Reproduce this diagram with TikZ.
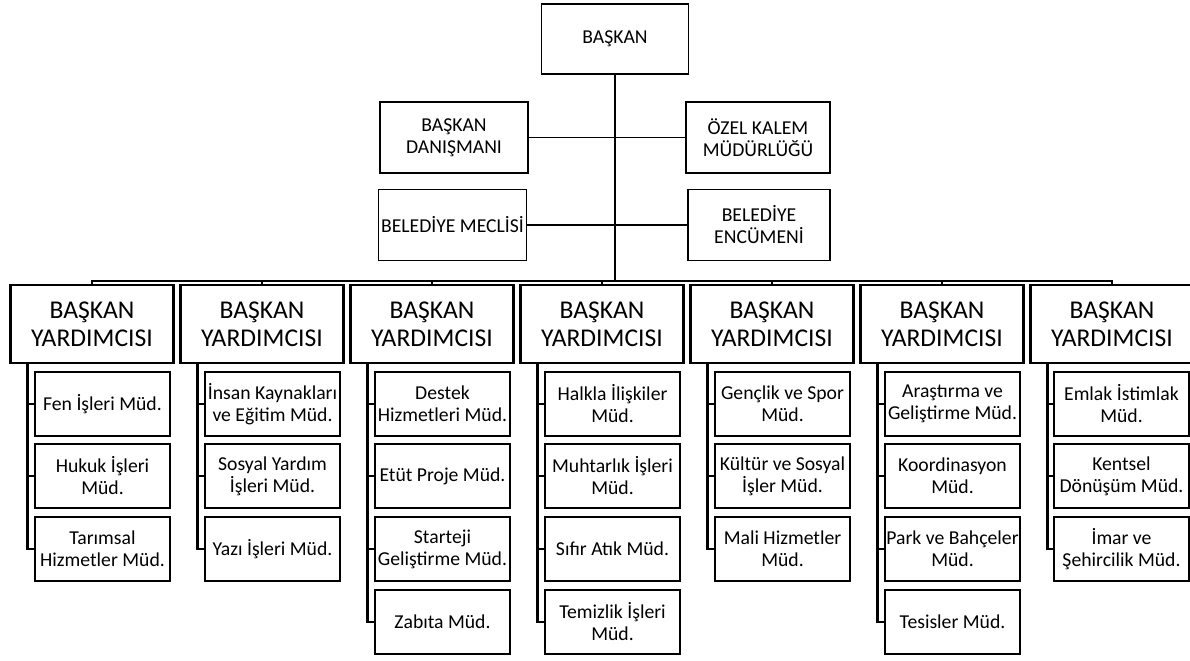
\documentclass[tikz,border=0pt]{standalone}
\usepackage{fontspec}
\setmainfont{Carlito}
\usetikzlibrary{calc}

\begin{document}
\begin{tikzpicture}[x=0.025cm, y=-0.025cm,
  topbox/.style={draw, line width=1.3pt, minimum width=3.7cm, minimum height=1.775cm, align=center, inner sep=1pt, font=\fontsize{14}{15.6}\selectfont},
  vpbox/.style={draw, line width=1.5pt, minimum width=4.075cm, minimum height=1.95cm, align=center, inner sep=1pt, font=\fontsize{18.2}{19.8}\selectfont},
  subbox/.style={draw, line width=1.8pt, minimum width=3.375cm, minimum height=1.6cm, align=center, inner sep=1pt, font=\fontsize{14}{15.6}\selectfont},
  thinline/.style={line width=0.9pt},
  thickline/.style={line width=1.9pt}]
  \useasboundingbox (0,0) rectangle (1190,660);
  % top of the chart
  \node[topbox, minimum width=3.675cm, minimum height=1.75cm] (baskan) at (615,39) {BAŞKAN};
  \node[topbox] (danisman) at (454,137.5) {BAŞKAN\\DANIŞMANI};
  \node[topbox, minimum width=3.6cm] (ozel) at (758,137.5) {ÖZEL KALEM\\MÜDÜRLÜĞÜ};
  \node[topbox] (meclis) at (452.5,225) {BELEDİYE MECLİSİ};
  \node[topbox, minimum width=3.55cm] (encumen) at (759,225) {BELEDİYE\\ENCÜMENİ};
  \coordinate (bus) at (615,281);
  \draw[thickline] (baskan) -- (bus);
  \draw[thinline] (danisman) -- (ozel);
  \draw[thinline] (meclis) -- (encumen);
  % deputies
  \foreach \i in {1,...,7} {
    \node[vpbox] (vp\i) at ({92+170*(\i-1)},324) {BAŞKAN\\YARDIMCISI};
    \draw[thinline] (bus) -| (vp\i.north);
    \coordinate (v\i) at ($(vp\i.south west)+(18,0)$);
  }
  % directorates
  \node[subbox] (fen) at (102.5,404) {Fen İşleri Müd.};
  \node[subbox] (hukuk) at (102.5,476) {Hukuk İşleri\\Müd.};
  \node[subbox] (tarim) at (102.5,549) {Tarımsal\\Hizmetler Müd.};
  \node[subbox] (insan) at (272.5,404) {İnsan Kaynakları\\ve Eğitim Müd.};
  \node[subbox] (sosyal) at (272.5,476) {Sosyal Yardım\\İşleri Müd.};
  \node[subbox] (yazi) at (272.5,549) {Yazı İşleri Müd.};
  \node[subbox] (destek) at (442.5,404) {Destek\\Hizmetleri Müd.};
  \node[subbox] (etut) at (442.5,476) {Etüt Proje Müd.};
  \node[subbox] (starteji) at (442.5,549) {Starteji\\Geliştirme Müd.};
  \node[subbox] (zabita) at (442.5,622) {Zabıta Müd.};
  \node[subbox] (halkla) at (612.5,404) {Halkla İlişkiler\\Müd.};
  \node[subbox] (muhtar) at (612.5,476) {Muhtarlık İşleri\\Müd.};
  \node[subbox] (sifir) at (612.5,549) {Sıfır Atık Müd.};
  \node[subbox] (temizlik) at (612.5,622) {Temizlik İşleri\\Müd.};
  \node[subbox] (genclik) at (782.5,404) {Gençlik ve Spor\\Müd.};
  \node[subbox] (kultur) at (782.5,476) {Kültür ve Sosyal\\İşler Müd.};
  \node[subbox] (mali) at (782.5,549) {Mali Hizmetler\\Müd.};
  \node[subbox] (arge) at (952.5,404) {Araştırma ve\\Geliştirme Müd.};
  \node[subbox] (koord) at (952.5,476) {Koordinasyon\\Müd.};
  \node[subbox] (park) at (952.5,549) {Park ve Bahçeler\\Müd.};
  \node[subbox] (tesis) at (952.5,622) {Tesisler Müd.};
  \node[subbox] (emlak) at (1121.5,404) {Emlak İstimlak\\Müd.};
  \node[subbox] (kentsel) at (1121.5,476) {Kentsel\\Dönüşüm Müd.};
  \node[subbox] (imar) at (1121.5,549) {İmar ve\\Şehircilik Müd.};
  \foreach \s in {fen,hukuk,tarim} \draw[thickline] (v1) |- (\s);
  \foreach \s in {insan,sosyal,yazi} \draw[thickline] (v2) |- (\s);
  \foreach \s in {destek,etut,starteji,zabita} \draw[thickline] (v3) |- (\s);
  \foreach \s in {halkla,muhtar,sifir,temizlik} \draw[thickline] (v4) |- (\s);
  \foreach \s in {genclik,kultur,mali} \draw[thickline] (v5) |- (\s);
  \foreach \s in {arge,koord,park,tesis} \draw[thickline] (v6) |- (\s);
  \foreach \s in {emlak,kentsel,imar} \draw[thickline] (v7) |- (\s);
\end{tikzpicture}
\end{document}
